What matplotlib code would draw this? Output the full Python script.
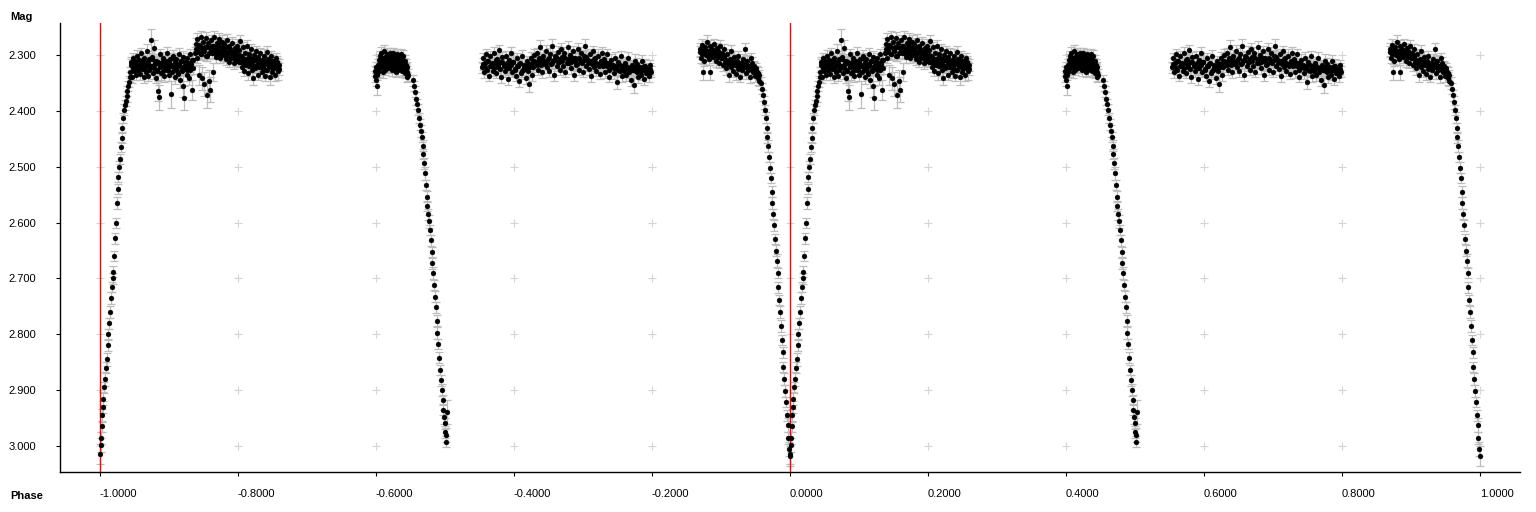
import numpy as np
import matplotlib
matplotlib.use("Agg")
import matplotlib.pyplot as plt

# ---------------- data: one orbital cycle, phase in [0, 1) ----------------
rise_phase = [0.0005, 0.0010, 0.0018, 0.0025, 0.0032, 0.0040, 0.0050, 0.0060, 0.0072, 0.0085,
              0.0097, 0.0110, 0.0120, 0.0132, 0.0145, 0.0158, 0.0170, 0.0182, 0.0193, 0.0205,
              0.0217, 0.0230, 0.0242, 0.0255, 0.0266, 0.0278, 0.0290, 0.0302, 0.0314, 0.0326,
              0.0338, 0.0350, 0.0362, 0.0374, 0.0386, 0.0398, 0.0410, 0.0422, 0.0435]
rise_mag = [3.015, 2.998, 2.985, 2.965, 2.945, 2.930, 2.915, 2.895, 2.880, 2.860,
            2.845, 2.820, 2.800, 2.780, 2.760, 2.735, 2.715, 2.700, 2.688, 2.660,
            2.628, 2.600, 2.565, 2.540, 2.518, 2.500, 2.486, 2.465, 2.448, 2.430,
            2.412, 2.398, 2.390, 2.382, 2.374, 2.365, 2.356, 2.348, 2.340]
rise_err = [18, 12, 11, 10, 12, 10, 11, 10, 12, 10,
            11, 10, 9, 10, 11, 10, 9, 10, 10, 9,
            10, 9, 10, 9, 9, 10, 9, 9, 10, 9,
            9, 10, 9, 9, 10, 9, 9, 10, 9]

flatA_phase = [0.0440, 0.0449, 0.0461, 0.0472, 0.0483, 0.0495, 0.0506, 0.0518, 0.0529, 0.0541,
               0.0552, 0.0564, 0.0575, 0.0587, 0.0598, 0.0610, 0.0621, 0.0633, 0.0644, 0.0656,
               0.0667, 0.0679, 0.0690, 0.0702, 0.0713, 0.0725, 0.0736, 0.0748, 0.0759, 0.0771,
               0.0782, 0.0794, 0.0805, 0.0817, 0.0828, 0.0840, 0.0851, 0.0863, 0.0874, 0.0886,
               0.0897, 0.0909, 0.0920, 0.0932, 0.0943, 0.0955, 0.0966, 0.0978, 0.0989, 0.1001,
               0.1012, 0.1024, 0.1035, 0.1047, 0.1058, 0.1070, 0.1081, 0.1093, 0.1104, 0.1116,
               0.1127, 0.1139, 0.1150, 0.1162, 0.1173, 0.1185, 0.1196, 0.1208, 0.1219, 0.1231,
               0.1242, 0.1254, 0.1265, 0.1277, 0.1288, 0.1300, 0.1311, 0.1323, 0.1334, 0.1346,
               0.1380, 0.1392, 0.1401, 0.1413, 0.1425, 0.1434, 0.1446, 0.1458, 0.1467, 0.1479,
               0.1491, 0.1500, 0.1512, 0.1524, 0.1533, 0.1545, 0.1557, 0.1566, 0.1578, 0.1590,
               0.1599, 0.1611, 0.1623, 0.1632, 0.1644, 0.1656, 0.1665, 0.1677, 0.1689, 0.1698,
               0.1710, 0.1722, 0.1731, 0.1743, 0.1755, 0.1764, 0.1776, 0.1788, 0.1797, 0.1809,
               0.1821, 0.1830, 0.1842, 0.1854, 0.1863, 0.1875, 0.1887, 0.1896, 0.1908, 0.1920,
               0.1929, 0.1941, 0.1953, 0.1962, 0.1974, 0.1986, 0.1995,
               0.2008, 0.2020, 0.2031, 0.2043, 0.2056, 0.2067, 0.2079, 0.2092, 0.2103, 0.2115,
               0.2128, 0.2139, 0.2151, 0.2164, 0.2175, 0.2187, 0.2200, 0.2211, 0.2223, 0.2236,
               0.2247, 0.2259, 0.2272, 0.2283, 0.2295, 0.2308, 0.2319, 0.2331, 0.2344, 0.2355,
               0.2367, 0.2380, 0.2391, 0.2403, 0.2416, 0.2427, 0.2439, 0.2452, 0.2463, 0.2475,
               0.2488, 0.2499, 0.2511, 0.2524, 0.2535, 0.2547, 0.2560, 0.2571, 0.2585, 0.2598]
flatA_mag = [2.331, 2.312, 2.340, 2.322, 2.305, 2.328, 2.316, 2.336, 2.301, 2.319,
             2.327, 2.309, 2.334, 2.318, 2.297, 2.325, 2.313, 2.339, 2.306, 2.321,
             2.330, 2.292, 2.315, 2.337, 2.308, 2.324, 2.273, 2.319, 2.303, 2.332,
             2.287, 2.316, 2.341, 2.310, 2.326, 2.364, 2.376, 2.320, 2.299, 2.333,
             2.314, 2.329, 2.305, 2.338, 2.319, 2.311, 2.327, 2.296, 2.322, 2.336,
             2.308, 2.370, 2.318, 2.331, 2.302, 2.325, 2.313, 2.340, 2.307, 2.321,
             2.334, 2.298, 2.317, 2.345, 2.310, 2.328, 2.303, 2.355, 2.377, 2.324,
             2.312, 2.335, 2.306, 2.320, 2.341, 2.299, 2.327, 2.316, 2.362, 2.309,
             2.296, 2.281, 2.305, 2.272, 2.290, 2.336, 2.284, 2.268, 2.299, 2.342,
             2.277, 2.293, 2.352, 2.286, 2.270, 2.371, 2.301, 2.279, 2.346, 2.288,
             2.362, 2.274, 2.296, 2.283, 2.331, 2.267, 2.291, 2.303, 2.278, 2.287,
             2.298, 2.271, 2.284, 2.306, 2.293, 2.276, 2.289, 2.300, 2.281, 2.295,
             2.308, 2.286, 2.274, 2.297, 2.312, 2.283, 2.291, 2.305, 2.278, 2.302,
             2.294, 2.315, 2.287, 2.299, 2.310, 2.283, 2.304,
             2.291, 2.312, 2.275, 2.301, 2.322, 2.286, 2.309, 2.329, 2.296, 2.317,
             2.283, 2.305, 2.333, 2.298, 2.314, 2.290, 2.326, 2.308, 2.342, 2.300,
             2.319, 2.293, 2.311, 2.335, 2.304, 2.321, 2.297, 2.315, 2.330, 2.309,
             2.324, 2.301, 2.338, 2.313, 2.295, 2.327, 2.307, 2.319, 2.340, 2.302,
             2.316, 2.331, 2.310, 2.323, 2.336, 2.306, 2.320, 2.312, 2.328, 2.318]
flatA_err = [10, 9, 11, 10, 9, 10, 12, 9, 10, 11,
             9, 10, 11, 9, 10, 10, 9, 11, 10, 9,
             10, 11, 9, 10, 12, 10, 20, 9, 10, 11,
             14, 10, 9, 11, 10, 18, 22, 10, 9, 11,
             10, 9, 11, 10, 9, 10, 11, 10, 9, 10,
             11, 24, 10, 9, 11, 10, 9, 12, 10, 9,
             10, 11, 9, 14, 10, 9, 11, 20, 22, 10,
             9, 11, 10, 9, 12, 10, 9, 11, 18, 10,
             10, 11, 9, 12, 10, 18, 9, 11, 10, 20,
             10, 9, 22, 10, 11, 24, 9, 10, 20, 11,
             22, 10, 9, 11, 16, 10, 9, 12, 10, 11,
             9, 10, 11, 9, 10, 11, 9, 10, 11, 9,
             10, 9, 11, 10, 9, 11, 10, 9, 10, 11,
             9, 10, 11, 9, 10, 11, 9,
             10, 9, 11, 10, 9, 10, 11, 9, 10, 11,
             10, 9, 11, 10, 9, 10, 11, 9, 12, 10,
             9, 10, 11, 9, 10, 11, 9, 10, 11, 9,
             10, 11, 9, 10, 11, 9, 10, 11, 14, 10,
             9, 11, 10, 9, 11, 10, 9, 11, 16, 10]

flatA2_phase = [0.0455, 0.0478, 0.0501, 0.0523, 0.0547, 0.0569, 0.0593, 0.0616, 0.0639, 0.0662,
                0.0685, 0.0708, 0.0731, 0.0754, 0.0777, 0.0800, 0.0823, 0.0846, 0.0869, 0.0892,
                0.0915, 0.0938, 0.0961, 0.0984, 0.1007, 0.1030, 0.1053, 0.1076, 0.1099, 0.1122,
                0.1145, 0.1168, 0.1191, 0.1214, 0.1237, 0.1260, 0.1283, 0.1306, 0.1329, 0.1352,
                0.1395, 0.1418, 0.1441, 0.1464, 0.1487, 0.1510, 0.1533, 0.1556, 0.1579, 0.1602,
                0.1625, 0.1648, 0.1671, 0.1694, 0.1717, 0.1740, 0.1763, 0.1786, 0.1809, 0.1832,
                0.1855, 0.1878, 0.1901, 0.1924, 0.1947, 0.1970, 0.1993, 0.2016, 0.2039, 0.2062,
                0.2085, 0.2108, 0.2131, 0.2154, 0.2177, 0.2200, 0.2223, 0.2246, 0.2269, 0.2292,
                0.2315, 0.2338, 0.2361, 0.2384, 0.2407, 0.2430, 0.2453, 0.2476, 0.2499, 0.2522,
                0.2545, 0.2568, 0.2591]
flatA2_mag = [2.318, 2.324, 2.311, 2.320, 2.327, 2.314, 2.322, 2.309, 2.325, 2.317,
              2.312, 2.326, 2.319, 2.308, 2.323, 2.315, 2.329, 2.313, 2.321, 2.316,
              2.310, 2.324, 2.318, 2.327, 2.312, 2.320, 2.306, 2.322, 2.315, 2.328,
              2.317, 2.311, 2.325, 2.319, 2.313, 2.326, 2.314, 2.321, 2.309, 2.323,
              2.289, 2.295, 2.282, 2.298, 2.287, 2.293, 2.301, 2.285, 2.296, 2.290,
              2.284, 2.297, 2.288, 2.292, 2.280, 2.299, 2.291, 2.286, 2.294, 2.302,
              2.295, 2.289, 2.304, 2.298, 2.306, 2.293, 2.309, 2.300, 2.312, 2.304,
              2.316, 2.307, 2.313, 2.320, 2.305, 2.318, 2.311, 2.323, 2.308, 2.316,
              2.312, 2.321, 2.309, 2.317, 2.326, 2.314, 2.320, 2.311, 2.324, 2.318,
              2.322, 2.315, 2.325]
flatA2_err = [10, 9, 11, 10, 9, 10, 11, 9, 10, 11,
              9, 10, 11, 9, 10, 11, 9, 10, 11, 9,
              10, 11, 9, 10, 11, 9, 10, 11, 9, 10,
              11, 9, 10, 11, 9, 10, 11, 9, 10, 11,
              9, 10, 11, 9, 10, 11, 9, 10, 11, 9,
              10, 11, 9, 10, 11, 9, 10, 11, 9, 10,
              11, 9, 10, 11, 9, 10, 11, 9, 10, 11,
              9, 10, 11, 9, 10, 11, 9, 10, 11, 9,
              10, 11, 9, 10, 11, 9, 10, 11, 9, 10,
              11, 9, 10]

flatB_phase = [0.3985, 0.3990, 0.3998, 0.4006, 0.4012, 0.4020, 0.4028, 0.4035, 0.4043, 0.4050,
               0.4058, 0.4066, 0.4073, 0.4081, 0.4089, 0.4096, 0.4104, 0.4112, 0.4119, 0.4127,
               0.4135, 0.4142, 0.4150, 0.4158, 0.4165, 0.4173, 0.4181, 0.4188, 0.4196, 0.4204,
               0.4211, 0.4219, 0.4227, 0.4234, 0.4242, 0.4250, 0.4257, 0.4265, 0.4273, 0.4280,
               0.4288, 0.4296, 0.4303, 0.4311, 0.4319, 0.4326, 0.4334, 0.4342, 0.4349, 0.4357,
               0.4365, 0.4372, 0.4380, 0.4388, 0.4395, 0.4403, 0.4411, 0.4418, 0.4426, 0.4434,
               0.4441, 0.4449, 0.4456, 0.4463,
               0.3994, 0.4016, 0.4039, 0.4062, 0.4085, 0.4108, 0.4131, 0.4154, 0.4177, 0.4200,
               0.4223, 0.4246, 0.4269, 0.4292, 0.4315, 0.4338, 0.4361, 0.4384, 0.4407, 0.4430,
               0.4452]
flatB_mag = [2.338, 2.328, 2.344, 2.322, 2.335, 2.356, 2.318, 2.331, 2.309, 2.325,
             2.301, 2.316, 2.297, 2.322, 2.310, 2.330, 2.305, 2.319, 2.293, 2.313,
             2.326, 2.302, 2.317, 2.298, 2.309, 2.323, 2.306, 2.315, 2.296, 2.320,
             2.311, 2.300, 2.327, 2.308, 2.318, 2.297, 2.313, 2.324, 2.303, 2.316,
             2.331, 2.307, 2.319, 2.299, 2.312, 2.326, 2.305, 2.321, 2.310, 2.298,
             2.316, 2.329, 2.308, 2.320, 2.302, 2.314, 2.325, 2.311, 2.333, 2.318,
             2.327, 2.339, 2.322, 2.336,
             2.331, 2.326, 2.318, 2.312, 2.315, 2.310, 2.318, 2.309, 2.314, 2.311,
             2.316, 2.308, 2.313, 2.318, 2.307, 2.314, 2.311, 2.316, 2.319, 2.324,
             2.330]
flatB_err = [10, 9, 11, 10, 9, 16, 10, 9, 11, 10,
             9, 10, 11, 9, 10, 11, 9, 10, 11, 9,
             10, 11, 9, 10, 11, 9, 10, 11, 9, 10,
             11, 9, 10, 11, 9, 10, 11, 9, 10, 11,
             9, 10, 11, 9, 10, 11, 9, 10, 11, 9,
             10, 11, 9, 10, 11, 9, 10, 11, 9, 10,
             11, 9, 10, 11,
             10, 9, 11, 10, 9, 10, 11, 9, 10, 11,
             9, 10, 11, 9, 10, 11, 9, 10, 11, 9,
             10]

sec_phase = [0.4541, 0.4555, 0.4570, 0.4585, 0.4600, 0.4614, 0.4627, 0.4640, 0.4652, 0.4662,
             0.4675, 0.4686, 0.4696, 0.4708, 0.4721, 0.4734, 0.4745, 0.4758, 0.4770, 0.4783,
             0.4795, 0.4806, 0.4816, 0.4828, 0.4842, 0.4855, 0.4866, 0.4877, 0.4889, 0.4902,
             0.4915, 0.4928, 0.4940, 0.4953, 0.4966, 0.4978, 0.4990, 0.5000, 0.5006, 0.5014,
             0.5020, 0.5034]
sec_mag = [2.345, 2.355, 2.366, 2.378, 2.388, 2.398, 2.412, 2.425, 2.436, 2.446,
           2.462, 2.478, 2.494, 2.512, 2.533, 2.554, 2.571, 2.585, 2.598, 2.613,
           2.632, 2.652, 2.673, 2.690, 2.712, 2.733, 2.752, 2.776, 2.798, 2.818,
           2.842, 2.864, 2.882, 2.900, 2.918, 2.935, 2.948, 2.959, 2.975, 2.992,
           2.980, 2.939]
sec_err = [10, 9, 10, 11, 9, 10, 9, 10, 11, 9,
           10, 9, 10, 11, 9, 10, 9, 10, 11, 9,
           10, 9, 10, 11, 9, 10, 9, 10, 11, 9,
           10, 9, 10, 11, 9, 10, 12, 10, 11, 10,
           12, 22]

flatC_phase = [0.5530, 0.5544, 0.5561, 0.5577, 0.5592, 0.5610, 0.5624, 0.5641, 0.5657, 0.5672,
               0.5690, 0.5704, 0.5721, 0.5737, 0.5752, 0.5770, 0.5784, 0.5801, 0.5817, 0.5832,
               0.5850, 0.5864, 0.5881, 0.5897, 0.5912, 0.5930, 0.5944, 0.5961, 0.5977, 0.5992,
               0.6010, 0.6024, 0.6041, 0.6057, 0.6072, 0.6090, 0.6104, 0.6121, 0.6137, 0.6152,
               0.6170, 0.6184, 0.6201, 0.6217, 0.6232, 0.6250, 0.6264, 0.6281, 0.6297, 0.6312,
               0.6330, 0.6344, 0.6361, 0.6377, 0.6392, 0.6410, 0.6424, 0.6441, 0.6457, 0.6472,
               0.6490, 0.6504, 0.6521, 0.6537, 0.6552, 0.6570, 0.6584, 0.6601, 0.6617, 0.6632,
               0.6650, 0.6664, 0.6681, 0.6697, 0.6712, 0.6730, 0.6744, 0.6761, 0.6777, 0.6792,
               0.6810, 0.6824, 0.6841, 0.6857, 0.6872, 0.6890, 0.6904, 0.6921, 0.6937, 0.6952,
               0.6970, 0.6984, 0.7001, 0.7017, 0.7032, 0.7050, 0.7064, 0.7081, 0.7097, 0.7112,
               0.7130, 0.7144, 0.7161, 0.7177, 0.7192, 0.7210, 0.7224, 0.7241, 0.7257, 0.7272,
               0.7290, 0.7304, 0.7321, 0.7337, 0.7352, 0.7370, 0.7384, 0.7401, 0.7417, 0.7432,
               0.7450, 0.7464, 0.7481, 0.7497, 0.7512, 0.7530, 0.7544, 0.7561, 0.7577, 0.7592,
               0.7610, 0.7624, 0.7641, 0.7657, 0.7672, 0.7690, 0.7704, 0.7721, 0.7737, 0.7752,
               0.7770, 0.7787, 0.7803, 0.7820, 0.7836, 0.7853, 0.7870, 0.7886, 0.7903, 0.7920,
               0.7940, 0.7955, 0.7972, 0.7988]
flatC_mag = [2.322, 2.305, 2.331, 2.314, 2.298, 2.326, 2.310, 2.337, 2.302, 2.319,
             2.328, 2.296, 2.315, 2.333, 2.307, 2.321, 2.291, 2.313, 2.339, 2.304,
             2.318, 2.329, 2.301, 2.324, 2.343, 2.309, 2.316, 2.297, 2.331, 2.312,
             2.325, 2.338, 2.306, 2.320, 2.346, 2.314, 2.333, 2.302, 2.327, 2.318,
             2.341, 2.311, 2.329, 2.352, 2.316, 2.305, 2.335, 2.322, 2.300, 2.313,
             2.296, 2.326, 2.309, 2.285, 2.318, 2.331, 2.302, 2.314, 2.292, 2.321,
             2.307, 2.329, 2.298, 2.316, 2.283, 2.310, 2.335, 2.301, 2.319, 2.294,
             2.312, 2.326, 2.289, 2.304, 2.320, 2.297, 2.331, 2.308, 2.286, 2.315,
             2.300, 2.323, 2.311, 2.293, 2.336, 2.305, 2.318, 2.290, 2.327, 2.309,
             2.296, 2.314, 2.330, 2.302, 2.284, 2.319, 2.307, 2.325, 2.298, 2.338,
             2.311, 2.293, 2.322, 2.305, 2.329, 2.316, 2.301, 2.334, 2.312, 2.296,
             2.320, 2.307, 2.331, 2.314, 2.299, 2.326, 2.340, 2.309, 2.322, 2.317,
             2.333, 2.305, 2.324, 2.348, 2.313, 2.329, 2.302, 2.338, 2.319, 2.327,
             2.314, 2.336, 2.322, 2.305, 2.331, 2.344, 2.318, 2.327, 2.354, 2.310,
             2.329, 2.316, 2.340, 2.322, 2.335, 2.311, 2.327, 2.343, 2.319, 2.332,
             2.325, 2.338, 2.318, 2.330]
flatC_err = [10, 9, 11, 10, 9, 10, 11, 9, 10, 11,
             9, 10, 11, 9, 10, 11, 9, 10, 11, 9,
             10, 11, 9, 10, 11, 9, 10, 11, 9, 10,
             11, 9, 10, 11, 12, 9, 10, 11, 9, 10,
             11, 9, 10, 14, 9, 10, 11, 9, 10, 11,
             9, 10, 11, 12, 9, 10, 11, 9, 10, 11,
             9, 10, 11, 9, 12, 10, 11, 9, 10, 11,
             9, 10, 11, 9, 10, 11, 9, 10, 11, 9,
             10, 11, 9, 10, 11, 9, 10, 11, 9, 10,
             11, 9, 10, 11, 12, 9, 10, 11, 9, 10,
             11, 9, 10, 11, 9, 10, 11, 9, 10, 11,
             9, 10, 11, 9, 10, 11, 9, 10, 11, 9,
             10, 11, 9, 12, 10, 11, 9, 10, 11, 9,
             10, 11, 9, 10, 11, 12, 9, 10, 14, 11,
             9, 10, 11, 9, 10, 11, 9, 10, 11, 9,
             10, 11, 9, 10]

flatC2_phase = [0.5552, 0.5583, 0.5614, 0.5645, 0.5676, 0.5707, 0.5738, 0.5769, 0.5800, 0.5831,
                0.5862, 0.5893, 0.5924, 0.5955, 0.5986, 0.6017, 0.6048, 0.6079, 0.6110, 0.6141,
                0.6172, 0.6203, 0.6234, 0.6265, 0.6296, 0.6327, 0.6358, 0.6389, 0.6420, 0.6451,
                0.6482, 0.6513, 0.6544, 0.6575, 0.6606, 0.6637, 0.6668, 0.6699, 0.6730, 0.6761,
                0.6792, 0.6823, 0.6854, 0.6885, 0.6916, 0.6947, 0.6978, 0.7009, 0.7040, 0.7071,
                0.7102, 0.7133, 0.7164, 0.7195, 0.7226, 0.7257, 0.7288, 0.7319, 0.7350, 0.7381,
                0.7412, 0.7443, 0.7474, 0.7505, 0.7536, 0.7567, 0.7598, 0.7629, 0.7660, 0.7691,
                0.7722, 0.7753, 0.7784, 0.7815, 0.7846, 0.7877, 0.7908, 0.7939, 0.7970]
flatC2_mag = [2.316, 2.321, 2.311, 2.319, 2.314, 2.323, 2.309, 2.318, 2.325, 2.313,
              2.320, 2.315, 2.324, 2.318, 2.312, 2.326, 2.320, 2.316, 2.329, 2.321,
              2.325, 2.318, 2.322, 2.314, 2.310, 2.317, 2.306, 2.313, 2.309, 2.316,
              2.312, 2.306, 2.315, 2.309, 2.303, 2.313, 2.307, 2.311, 2.304, 2.314,
              2.308, 2.313, 2.305, 2.311, 2.316, 2.306, 2.312, 2.309, 2.303, 2.315,
              2.310, 2.316, 2.308, 2.314, 2.319, 2.311, 2.317, 2.312, 2.320, 2.315,
              2.318, 2.324, 2.320, 2.326, 2.317, 2.323, 2.329, 2.319, 2.325, 2.321,
              2.327, 2.322, 2.330, 2.324, 2.328, 2.320, 2.326, 2.331, 2.325]
flatC2_err = [10, 9, 11, 10, 9, 10, 11, 9, 10, 11,
              9, 10, 11, 9, 10, 11, 9, 10, 11, 9,
              10, 11, 9, 10, 11, 9, 10, 11, 9, 10,
              11, 9, 10, 11, 9, 10, 11, 9, 10, 11,
              9, 10, 11, 9, 10, 11, 9, 10, 11, 9,
              10, 11, 9, 10, 11, 9, 10, 11, 9, 10,
              11, 9, 10, 11, 9, 10, 11, 9, 10, 11,
              9, 10, 11, 9, 10, 11, 9, 10, 11]

flatD_phase = [0.8695, 0.8708, 0.8720, 0.8733, 0.8746, 0.8758, 0.8771, 0.8784, 0.8796, 0.8809,
               0.8822, 0.8834, 0.8847, 0.8860, 0.8872, 0.8885, 0.8898, 0.8910, 0.8923, 0.8936,
               0.8948, 0.8961, 0.8974, 0.8986, 0.8999, 0.9012, 0.9024, 0.9037, 0.9050, 0.9062,
               0.9075, 0.9088, 0.9100, 0.9113, 0.9126, 0.9138, 0.9151, 0.9164, 0.9176, 0.9189,
               0.9202, 0.9214, 0.9227, 0.9240, 0.9252, 0.9265, 0.9278, 0.9290, 0.9303, 0.9316,
               0.9328, 0.9341, 0.9354, 0.9366, 0.9379, 0.9392, 0.9404, 0.9417, 0.9430, 0.9442,
               0.9455, 0.9468, 0.9480, 0.9493, 0.9506, 0.9518, 0.9531, 0.9544, 0.9556,
               0.8702, 0.8731, 0.8760, 0.8789, 0.8818, 0.8847, 0.8876, 0.8905, 0.8934, 0.8963,
               0.8992, 0.9021, 0.9050, 0.9079, 0.9108, 0.9137, 0.9166, 0.9195, 0.9224, 0.9253,
               0.9282, 0.9311, 0.9340, 0.9369, 0.9398, 0.9427, 0.9456, 0.9485, 0.9514, 0.9543]
flatD_mag = [2.290, 2.305, 2.282, 2.330, 2.297, 2.311, 2.286, 2.300, 2.276, 2.293,
             2.308, 2.284, 2.331, 2.298, 2.289, 2.303, 2.280, 2.295, 2.310, 2.287,
             2.301, 2.292, 2.315, 2.284, 2.306, 2.296, 2.318, 2.302, 2.289, 2.312,
             2.324, 2.299, 2.316, 2.336, 2.307, 2.321, 2.293, 2.313, 2.329, 2.304,
             2.318, 2.334, 2.310, 2.325, 2.302, 2.320, 2.339, 2.314, 2.327, 2.308,
             2.322, 2.290, 2.316, 2.333, 2.311, 2.326, 2.319, 2.340, 2.306, 2.323,
             2.315, 2.331, 2.320, 2.337, 2.324, 2.330, 2.342, 2.335, 2.346,
             2.294, 2.299, 2.291, 2.296, 2.301, 2.293, 2.298, 2.292, 2.297, 2.303,
             2.299, 2.306, 2.302, 2.309, 2.313, 2.310, 2.316, 2.312, 2.318, 2.314,
             2.320, 2.316, 2.322, 2.318, 2.324, 2.320, 2.326, 2.323, 2.329, 2.332]
flatD_err = [12, 10, 11, 14, 10, 9, 11, 10, 12, 9,
             10, 11, 14, 9, 10, 11, 9, 10, 11, 9,
             10, 11, 9, 10, 11, 9, 10, 11, 9, 10,
             11, 9, 10, 12, 9, 10, 11, 9, 10, 11,
             9, 10, 11, 9, 10, 11, 9, 10, 11, 9,
             10, 11, 9, 10, 11, 9, 10, 11, 9, 10,
             11, 9, 10, 11, 9, 10, 11, 9, 10,
             10, 9, 11, 10, 9, 10, 11, 9, 10, 11,
             9, 10, 11, 9, 10, 11, 9, 10, 11, 9,
             10, 11, 9, 10, 11, 9, 10, 11, 9, 10]

fall_phase = [0.9575, 0.9590, 0.9605, 0.9620, 0.9635, 0.9648, 0.9660, 0.9672, 0.9683, 0.9695,
              0.9708, 0.9720, 0.9734, 0.9745, 0.9758, 0.9770, 0.9782, 0.9795, 0.9807, 0.9820,
              0.9833, 0.9845, 0.9858, 0.9870, 0.9882, 0.9893, 0.9905, 0.9917, 0.9928, 0.9940,
              0.9952, 0.9964, 0.9976, 0.9988, 0.9996]
fall_mag = [2.350, 2.360, 2.372, 2.385, 2.398, 2.412, 2.430, 2.447, 2.463, 2.482,
            2.502, 2.520, 2.545, 2.565, 2.585, 2.605, 2.630, 2.650, 2.668, 2.690,
            2.716, 2.738, 2.760, 2.785, 2.810, 2.832, 2.858, 2.880, 2.902, 2.922,
            2.945, 2.962, 2.985, 3.005, 3.018]
fall_err = [10, 9, 10, 11, 9, 10, 9, 10, 11, 9,
            10, 9, 10, 11, 9, 10, 9, 10, 11, 9,
            10, 9, 10, 11, 9, 10, 9, 10, 11, 9,
            10, 12, 11, 12, 18]

x_ticks = [-1.0, -0.8, -0.6, -0.4, -0.2, 0.0, 0.2, 0.4, 0.6, 0.8, 1.0]
x_tick_labels = ["-1.0000", "-0.8000", "-0.6000", "-0.4000", "-0.2000", "0.0000",
                 "0.2000", "0.4000", "0.6000", "0.8000", "1.0000"]
y_ticks = [2.3, 2.4, 2.5, 2.6, 2.7, 2.8, 2.9, 3.0]
y_tick_labels = ["2.300", "2.400", "2.500", "2.600", "2.700", "2.800", "2.900", "3.000"]
epoch_lines = [-1.0, 0.0]

# ---------------- assemble ----------------
phase = np.concatenate([rise_phase, flatA_phase, flatA2_phase, flatB_phase, sec_phase,
                        flatC_phase, flatC2_phase, flatD_phase, fall_phase])
mag = np.concatenate([rise_mag, flatA_mag, flatA2_mag, flatB_mag, sec_mag,
                      flatC_mag, flatC2_mag, flatD_mag, fall_mag])
err = np.concatenate([rise_err, flatA_err, flatA2_err, flatB_err, sec_err,
                      flatC_err, flatC2_err, flatD_err, fall_err]) / 1000.0

x_all = np.concatenate([phase - 1.0, phase])
y_all = np.concatenate([mag, mag])
e_all = np.concatenate([err, err])

plt.rcParams['font.family'] = ['Liberation Sans', 'DejaVu Sans']
plt.rcParams['axes.unicode_minus'] = False

W, H = 1536, 512
fig = plt.figure(figsize=(W / 100, H / 100), dpi=100)
ax = fig.add_axes([60 / W, 1 - 472 / H, (1520 - 60) / W, (472 - 23) / H])

# grid crosses
gx, gy = np.meshgrid(x_ticks, y_ticks)
ax.plot(gx.ravel(), gy.ravel(), linestyle='none', marker='+', markersize=5.5,
        markeredgewidth=0.8, color='#d4d4d4', zorder=1)

ax.errorbar(x_all, y_all, yerr=e_all, fmt='none', ecolor='#bdbdbd',
            elinewidth=0.9, capsize=2.6, capthick=0.9, zorder=2)
for xv in epoch_lines:
    ax.axvline(xv, color='#ff0000', linewidth=1.0, zorder=3)
ax.plot(x_all, y_all, linestyle='none', marker='o', markersize=3.5,
        markerfacecolor='black', markeredgecolor='black', markeredgewidth=0.3, zorder=4)

ax.set_xlim(-1.05797, 1.05797)
ax.set_ylim(3.0465, 2.2427)

ax.set_xticks(x_ticks)
ax.set_xticklabels(x_tick_labels, ha='left')
ax.set_yticks(y_ticks)
ax.set_yticklabels(y_tick_labels)
ax.tick_params(axis='x', length=3, width=0.8, pad=9, labelsize=8, colors='black')
ax.tick_params(axis='y', length=3, width=0.8, pad=14, labelsize=8, colors='black')

for s in ['top', 'right']:
    ax.spines[s].set_visible(False)
for s in ['left', 'bottom']:
    ax.spines[s].set_linewidth(1.0)
    ax.spines[s].set_color('black')

fig.text(10 / W, 1 - 20 / H, "Mag", fontsize=8, fontweight='bold', ha='left', va='baseline')
fig.text(10 / W, 1 - 499 / H, "Phase", fontsize=8, fontweight='bold', ha='left', va='baseline')

fig.savefig("out.png", dpi=100, facecolor='white')
